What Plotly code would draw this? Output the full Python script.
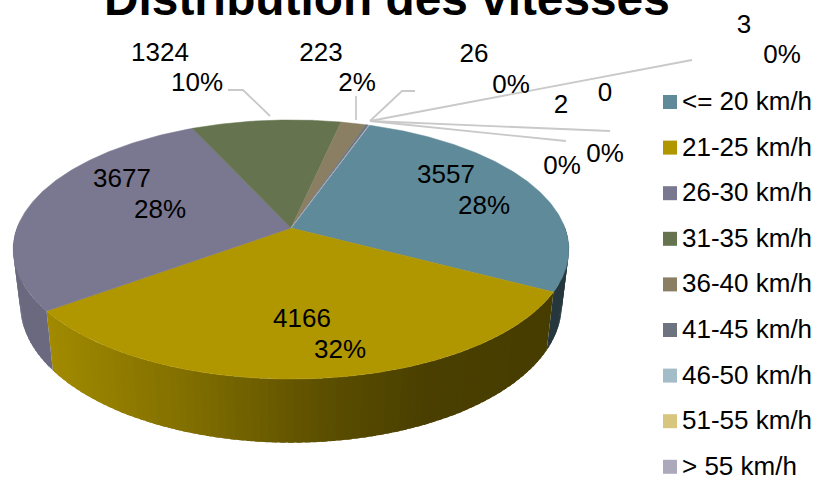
import numpy as np
import plotly.graph_objects as go

W, H = 819, 478
title_text = "Distribution des vitesses"
categories = ["<= 20 km/h", "21-25 km/h", "26-30 km/h", "31-35 km/h", "36-40 km/h",
              "41-45 km/h", "46-50 km/h", "51-55 km/h", "> 55 km/h"]
values = [3557, 4166, 3677, 1324, 223, 26, 2, 0, 3]
percents = ["28%", "32%", "28%", "10%", "2%", "0%", "0%", "0%", "0%"]
colors = ["#5F8A9A", "#B09700", "#7A7790", "#65744F", "#8A7F62",
          "#6D747F", "#A2BDC7", "#D8C67F", "#ACA9BC"]

# label centres: (value label), (percent label)
value_pos = [(446, 176), (302, 320), (122, 180), (160, 54), (321, 54),
             (474, 55), (561, 106), (605, 94), (744, 26)]
pct_pos = [(484, 207), (340, 351), (160, 211), (197, 84), (357, 84),
           (511, 86), (562, 167), (605, 155), (782, 56)]
leaders = [
    [(270, 116), (243, 90), (228, 90)],
    [(356, 120), (356, 96)],
    [(370, 121), (402, 91), (415, 91)],
    [(370, 121), (566, 141)],
    [(370, 121), (610, 131)],
    [(370, 121), (692, 60)],
]

START = 19.3
K = 0.166
CX = 291
TOP = dict(a=274.0, b=126.0, y0=228.0)
BOT = dict(a=267.0, b=134.0, y0=282.0)


def project(theta_deg, plane):
    t = np.radians(theta_deg)
    x, y = np.sin(t), np.cos(t)
    w = 1 + K * y
    return CX + plane["a"] * x / w, plane["y0"] - plane["b"] * y / w


def darken(hex_color, f):
    r, g, b = (int(hex_color[i:i + 2], 16) for i in (1, 3, 5))
    return f"rgb({r * f:.0f},{g * f:.0f},{b * f:.0f})"


def side_factor(idx, xpos):
    if idx == 0:
        return 0.40
    if idx == 1:
        return float(np.interp(xpos, [46, 200, 330, 430, 560], [0.92, 0.72, 0.52, 0.42, 0.40]))
    return 0.88


fig = go.Figure()
total = sum(values)
edges = START + np.concatenate([[0], np.cumsum(values)]) / total * 360

# side wall, only the part facing the viewer; each strip overlaps the next one to avoid seams
for i, (a0, a1) in enumerate(zip(edges[:-1], edges[1:])):
    lo, hi = max(a0, 88), min(a1, 272)
    if hi <= lo:
        continue
    n = max(1, int((hi - lo) / 1.5))
    steps = np.linspace(lo, hi, n + 1)
    for s0, s1 in zip(steps[:-1], steps[1:]):
        arc = np.linspace(s0, min(s1 + 1.0, hi), 4)
        tx, ty = project(arc, TOP)
        bx, by = project(arc[::-1], BOT)
        px = np.concatenate([tx, bx, tx[:1]])
        py = np.concatenate([ty, by, ty[:1]])
        col = darken(colors[i], side_factor(i, float(tx[0])))
        fig.add_trace(go.Scatter(x=px, y=py, mode="lines", fill="toself", fillcolor=col,
                                 line=dict(color=col, width=0),
                                 hoverinfo="skip", showlegend=False))

# top face
for i, (a0, a1) in enumerate(zip(edges[:-1], edges[1:])):
    if a1 <= a0:
        continue
    th = np.linspace(a0, a1, max(2, int((a1 - a0) / 0.5) + 1))
    xs, ys = project(th, TOP)
    xs = np.concatenate([[CX], xs, [CX]])
    ys = np.concatenate([[TOP["y0"]], ys, [TOP["y0"]]])
    fig.add_trace(go.Scatter(x=xs, y=ys, mode="lines", fill="toself", fillcolor=colors[i],
                             line=dict(color=colors[i], width=0.5),
                             name=categories[i], hoverinfo="name", showlegend=False))

# leader lines
for pts in leaders:
    fig.add_trace(go.Scatter(x=[p[0] for p in pts], y=[p[1] for p in pts], mode="lines",
                             line=dict(color="#C9C9C9", width=1.8),
                             hoverinfo="skip", showlegend=False))

# data labels
LABEL_FONT = dict(family="Liberation Sans, Arial, sans-serif", size=26, color="#000000")
fig.add_trace(go.Scatter(x=[p[0] for p in value_pos], y=[p[1] for p in value_pos], mode="text",
                         text=[str(v) for v in values], textposition="middle center",
                         textfont=LABEL_FONT, hoverinfo="skip", showlegend=False))
fig.add_trace(go.Scatter(x=[p[0] for p in pct_pos], y=[p[1] for p in pct_pos], mode="text",
                         text=percents, textposition="middle center",
                         textfont=LABEL_FONT, hoverinfo="skip", showlegend=False))

# legend column: swatches and their labels
rows = [102 + k * 45.6 for k in range(len(categories))]
fig.add_trace(go.Scatter(x=[670] * len(categories), y=rows, mode="markers",
                         marker=dict(symbol="square", size=14, color=colors, line=dict(width=0)),
                         hoverinfo="skip", showlegend=False))
fig.add_trace(go.Scatter(x=[682] * len(categories), y=[r + 1.5 for r in rows], mode="text",
                         text=categories, textposition="middle right",
                         textfont=LABEL_FONT, hoverinfo="skip", showlegend=False))

fig.update_layout(
    width=W, height=H, margin=dict(l=0, r=0, t=0, b=0),
    paper_bgcolor="white", plot_bgcolor="white", showlegend=False,
    xaxis=dict(range=[0, W], visible=False, fixedrange=True),
    yaxis=dict(range=[H, 0], visible=False, fixedrange=True),
    annotations=[dict(text=f"<b>{title_text}</b>", x=387, y=0, yshift=2, xref="x", yref="y",
                      xanchor="center", yanchor="middle", showarrow=False,
                      font=dict(family="Liberation Sans, Arial, sans-serif", size=47.8, color="#000000"))],
)
fig.write_html("out.html", config=dict(displayModeBar=False),
               post_script="document.body.style.margin='0';document.body.style.overflow='hidden';")
